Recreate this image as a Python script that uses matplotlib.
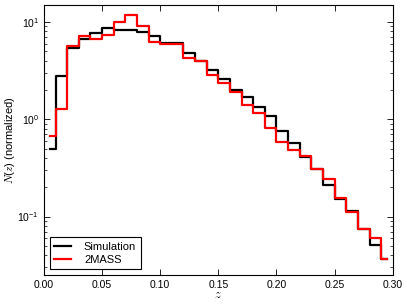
import numpy as np
import matplotlib
matplotlib.use("Agg")
import matplotlib.pyplot as plt

plt.rcParams['font.family'] = ['Liberation Sans', 'DejaVu Sans']
plt.rcParams['mathtext.fontset'] = 'cm'
plt.rcParams['mathtext.default'] = 'regular'

# bin centres (width 0.01)
z = np.arange(30) * 0.01 + 0.005

simulation = [0.495, 2.8, 5.4, 6.7, 7.7, 8.7, 8.3, 8.2, 7.95, 7.2,
              6.1, 6.1, 4.8, 3.95, 3.19, 2.58, 2.0, 1.68, 1.35, 1.07,
              0.75, 0.57, 0.41, 0.306, 0.213, 0.152, 0.113, 0.0746, 0.0514, 0.0364]
twomass = [0.67, 1.28, 5.67, 7.2, 6.7, 7.3, 10.0, 11.9, 9.2, 6.3,
           6.0, 5.9, 4.3, 3.95, 2.87, 2.38, 1.89, 1.41, 1.15, 0.82,
           0.59, 0.48, 0.42, 0.306, 0.243, 0.156, 0.11, 0.0746, 0.0598, 0.0364]

fig = plt.figure(figsize=(4.07, 3.08), dpi=100)
ax = fig.add_axes([0.108, 0.107, 0.857, 0.877])

ax.step(z, simulation, where='mid', color='black', lw=1.6, label='Simulation')
ax.step(z, twomass, where='mid', color='red', lw=1.6, label='2MASS')

ax.set_yscale('log')
ax.set_xlim(0, 0.30)
ax.set_ylim(0.025, 15)
ax.set_xticks([0.0, 0.05, 0.10, 0.15, 0.20, 0.25, 0.30])
ax.set_xticklabels(['0.00', '0.05', '0.10', '0.15', '0.20', '0.25', '0.30'])

ax.tick_params(which='both', direction='in', top=True, right=True, labelsize=7.5)
ax.tick_params(which='major', length=4, width=0.6)
ax.tick_params(which='minor', length=2, width=0.5)
for s in ax.spines.values():
    s.set_linewidth(0.8)

ax.set_xlabel(r'$\mathit{z}$', fontsize=9)
ax.set_ylabel(r'$\mathit{N}(\mathit{z})$ (normalized)', fontsize=8)
ax.yaxis.set_label_coords(-0.078, 0.5)
ax.xaxis.set_label_coords(0.5, -0.05)

leg = ax.legend(loc='lower left', fontsize=8, fancybox=False, framealpha=1,
                edgecolor='black', handlelength=1.5, borderpad=0.4,
                labelspacing=0.3, handletextpad=1.2)
leg.get_frame().set_linewidth(0.8)

fig.savefig('out.png', dpi=100)
